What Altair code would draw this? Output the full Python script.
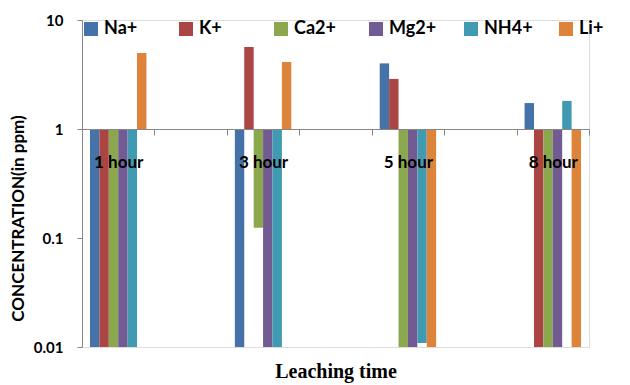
import altair as alt
import pandas as pd

# ---- data ----
hours = ["1 hour", "3 hour", "5 hour", "8 hour"]
ions = ["Na+", "K+", "Ca2+", "Mg2+", "NH4+", "Li+"]
na = [0.01, 0.01, 4.0, 1.73]
k = [0.01, 5.65, 2.88, 0.01]
ca = [0.01, 0.124, 0.01, 0.01]
mg = [0.01, 0.01, 0.01, 0.01]
nh4 = [0.01, 0.01, 0.0109, 1.81]
li = [4.98, 4.12, 0.01, 0.01]
# slots on the category axis (empty slots between the measured hours)
slots = ["1 hour", " ", "3 hour", "  ", "5 hour", "   ", "8 hour"]
colors = ["#4573A9", "#AA4543", "#8CA84F", "#725A92", "#409BB2", "#DD843A"]

series = {"Na+": na, "K+": k, "Ca2+": ca, "Mg2+": mg, "NH4+": nh4, "Li+": li}
rows = []
for ion in ions:
    for h, v in zip(hours, series[ion]):
        rows.append({"hour": h, "ion": ion, "value": v})
df = pd.DataFrame(rows)

W, H = 507, 327
FONT = "Lato"

bars = alt.Chart(df).mark_bar().encode(
    x=alt.X(
        "hour:N",
        scale=alt.Scale(domain=slots, paddingInner=0, paddingOuter=0),
        axis=alt.Axis(
            title="Leaching  time",
            titleFont="Liberation Serif",
            titleFontSize=20,
            titleFontWeight="bold",
            titleColor="#000000",
            titleY=242,
            titleBaseline="middle",
            labelAngle=0,
            labelFont=FONT,
            labelFontSize=17,
            labelFontWeight="bold",
            labelColor="#000000",
            labelPadding=19,
            ticks=True,
            tickBand="extent",
            tickExtra=True,
            offset=-218,
            zindex=1,
            domainColor="#868686",
            tickColor="#868686",
            tickSize=6,
            grid=False,
        ),
    ),
    xOffset=alt.XOffset(
        "ion:N",
        scale=alt.Scale(domain=ions, paddingInner=0, paddingOuter=0.85),
    ),
    y=alt.Y(
        "value:Q",
        scale=alt.Scale(type="log", domain=[0.01, 10]),
        axis=alt.Axis(
            title="CONCENTRATION(in ppm)",
            titleFont=FONT,
            titleFontSize=17,
            titleFontWeight="bold",
            titleColor="#000000",
            titleX=-64,
            titleY=198,
            titleAngle=-90,
            titleBaseline="middle",
            values=[0.01, 0.1, 1, 10],
            format=".2~f",
            labelFont=FONT,
            labelFontSize=15,
            labelFontWeight="bold",
            labelColor="#000000",
            labelPadding=14,
            domainColor="#868686",
            tickColor="#868686",
            tickSize=5,
            grid=False,
        ),
    ),
    y2=alt.datum(1),
    color=alt.Color(
        "ion:N",
        scale=alt.Scale(domain=ions, range=colors),
        legend=alt.Legend(
            title=None,
            orient="none",
            legendX=0,
            legendY=0,
            direction="horizontal",
            columns=6,
            gridAlign="all",
            columnPadding=24,
            symbolType="square",
            symbolSize=196,
            symbolStrokeWidth=0,
            labelFont=FONT,
            labelFontSize=18,
            labelFontWeight="bold",
            labelColor="#000000",
            labelOffset=4,
        ),
    ),
)

chart = bars.properties(
    width=W,
    height=H,
    autosize=alt.AutoSizeParams(type="none"),
    padding={"left": 74, "top": 12, "right": 33, "bottom": 38},
).configure_view(stroke=None).configure(background="#ffffff")

chart.save("out.html", embed_options={"renderer": "svg", "actions": False})
